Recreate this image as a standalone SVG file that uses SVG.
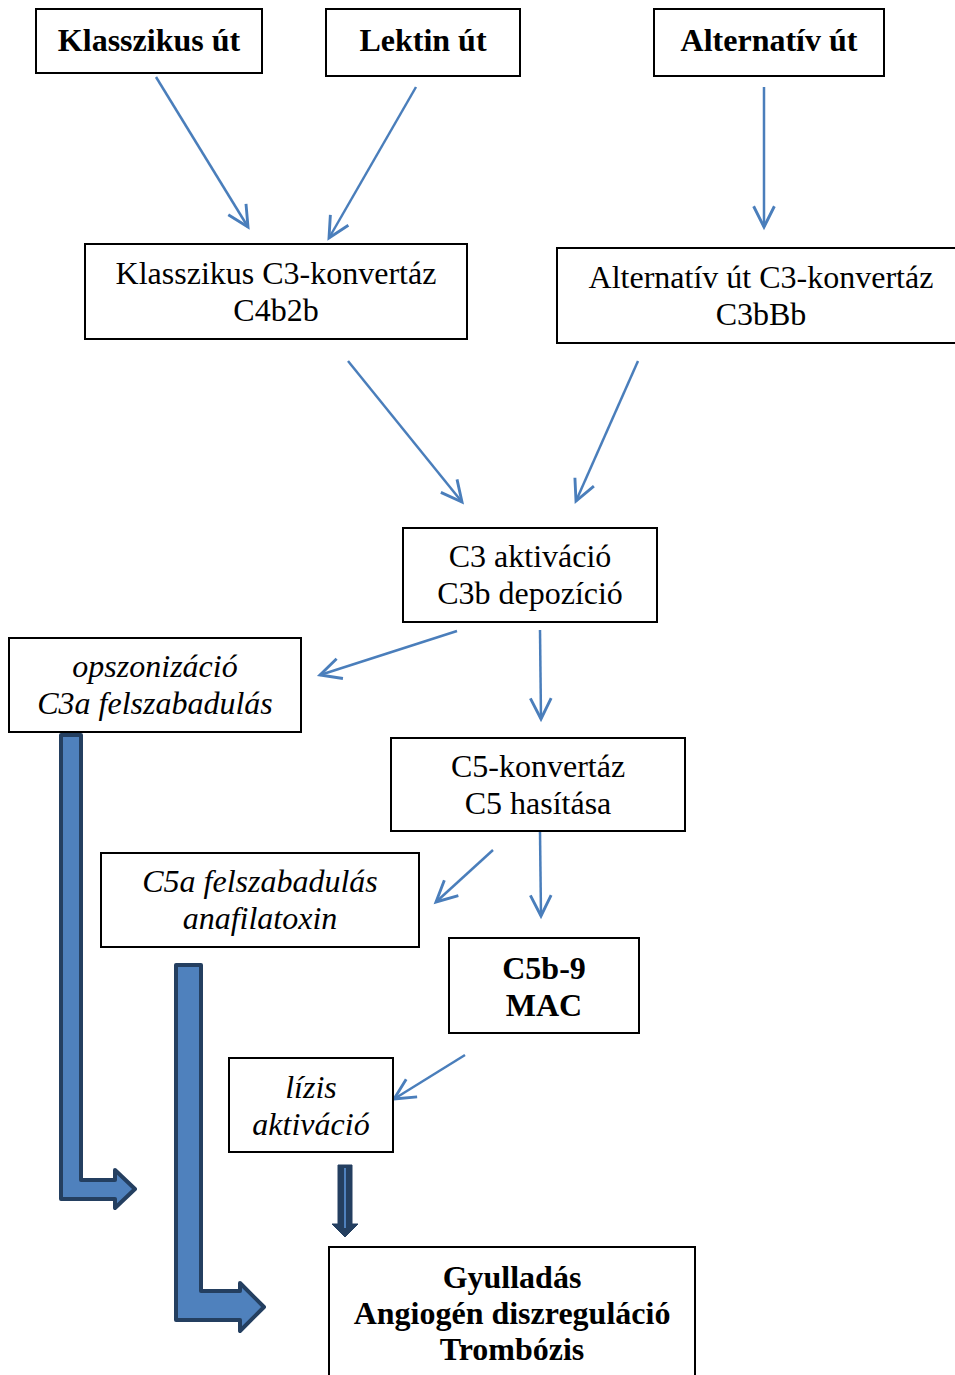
<svg xmlns="http://www.w3.org/2000/svg" width="955" height="1375" viewBox="0 0 955 1375">
<style>
.box{fill:#fff;stroke:#000;stroke-width:2}
.t{font-family:"Liberation Serif","Times New Roman",serif;font-size:32px;text-anchor:middle;fill:#000}
.b{font-weight:bold}
.i{font-style:italic}
.c{stroke:#4a7ebb;stroke-width:2.5;fill:none;marker-end:url(#ah)}
.big{fill:#4f81bd;stroke:#243f60;stroke-width:4;stroke-linejoin:round}
</style>
<defs>
<marker id="ah" markerUnits="userSpaceOnUse" markerWidth="30" markerHeight="30" viewBox="-22 -12 26 24" refX="0" refY="0" orient="auto">
<path d="M-18,-9 L0,0 L-18,9" fill="none" stroke="#4a7ebb" stroke-width="2.5"/>
</marker>
</defs>
<rect width="955" height="1375" fill="#fff"/>
<g id="connectors">
<line class="c" x1="156" y1="77" x2="248" y2="227"/>
<line class="c" x1="416" y1="87" x2="329" y2="238"/>
<line class="c" x1="764" y1="87" x2="764" y2="227"/>
<line class="c" x1="348" y1="361" x2="462" y2="502"/>
<line class="c" x1="638" y1="361" x2="576" y2="501"/>
<line class="c" x1="457" y1="631" x2="320" y2="675"/>
<line class="c" x1="540" y1="630" x2="541" y2="719"/>
<line class="c" x1="493" y1="850" x2="436" y2="902"/>
<line class="c" x1="540" y1="832" x2="541" y2="916"/>
<line class="c" x1="465" y1="1055" x2="394" y2="1099"/>
<path class="big" d="M61,735 L81,735 L81,1180 L115,1180 L115,1170 L135,1189 L115,1208 L115,1199 L61,1199 Z"/>
<path class="big" d="M176,965 L201,965 L201,1291 L240,1291 L240,1283 L264,1307 L240,1331 L240,1320 L176,1320 Z"/>
<path d="M338,1165 L352,1165 L352,1224 L358,1224 L345,1237 L332,1224 L338,1224 Z" fill="#243f60" stroke="#243f60" stroke-width="1"/>
<line x1="345" y1="1168" x2="345" y2="1228" stroke="#4f81bd" stroke-width="2"/>
</g>
<g id="n1"><rect class="box" x="36" y="9" width="226" height="64"/><text class="t b" x="149" y="51">Klasszikus út</text></g>
<g id="n2"><rect class="box" x="326" y="9" width="194" height="67"/><text class="t b" x="423" y="51">Lektin út</text></g>
<g id="n3"><rect class="box" x="654" y="9" width="230" height="67"/><text class="t b" x="769" y="51">Alternatív út</text></g>
<g id="n4"><rect class="box" x="85" y="244" width="382" height="95"/><text class="t" x="276" y="284">Klasszikus C3-konvertáz</text><text class="t" x="276" y="321">C4b2b</text></g>
<g id="n5"><rect class="box" x="557" y="248" width="400" height="95"/><text class="t" x="761" y="288">Alternatív út C3-konvertáz</text><text class="t" x="761" y="325">C3bBb</text></g>
<g id="n6"><rect class="box" x="403" y="528" width="254" height="94"/><text class="t" x="530" y="567">C3 aktiváció</text><text class="t" x="530" y="604">C3b depozíció</text></g>
<g id="n7"><rect class="box" x="9" y="638" width="292" height="94"/><text class="t i" x="155" y="677">opszonizáció</text><text class="t i" x="155" y="714">C3a felszabadulás</text></g>
<g id="n8"><rect class="box" x="391" y="738" width="294" height="93"/><text class="t" x="538" y="777">C5-konvertáz</text><text class="t" x="538" y="814">C5 hasítása</text></g>
<g id="n9"><rect class="box" x="101" y="853" width="318" height="94"/><text class="t i" x="260" y="892">C5a felszabadulás</text><text class="t i" x="260" y="929">anafilatoxin</text></g>
<g id="n10"><rect class="box" x="449" y="938" width="190" height="95"/><text class="t b" x="544" y="979">C5b-9</text><text class="t b" x="544" y="1016">MAC</text></g>
<g id="n11"><rect class="box" x="229" y="1058" width="164" height="94"/><text class="t i" x="311" y="1098">lízis</text><text class="t i" x="311" y="1135">aktiváció</text></g>
<g id="n12"><rect class="box" x="329" y="1247" width="366" height="140"/><text class="t b" x="512" y="1288">Gyulladás</text><text class="t b" x="512" y="1324">Angiogén diszreguláció</text><text class="t b" x="512" y="1360">Trombózis</text></g>
</svg>
